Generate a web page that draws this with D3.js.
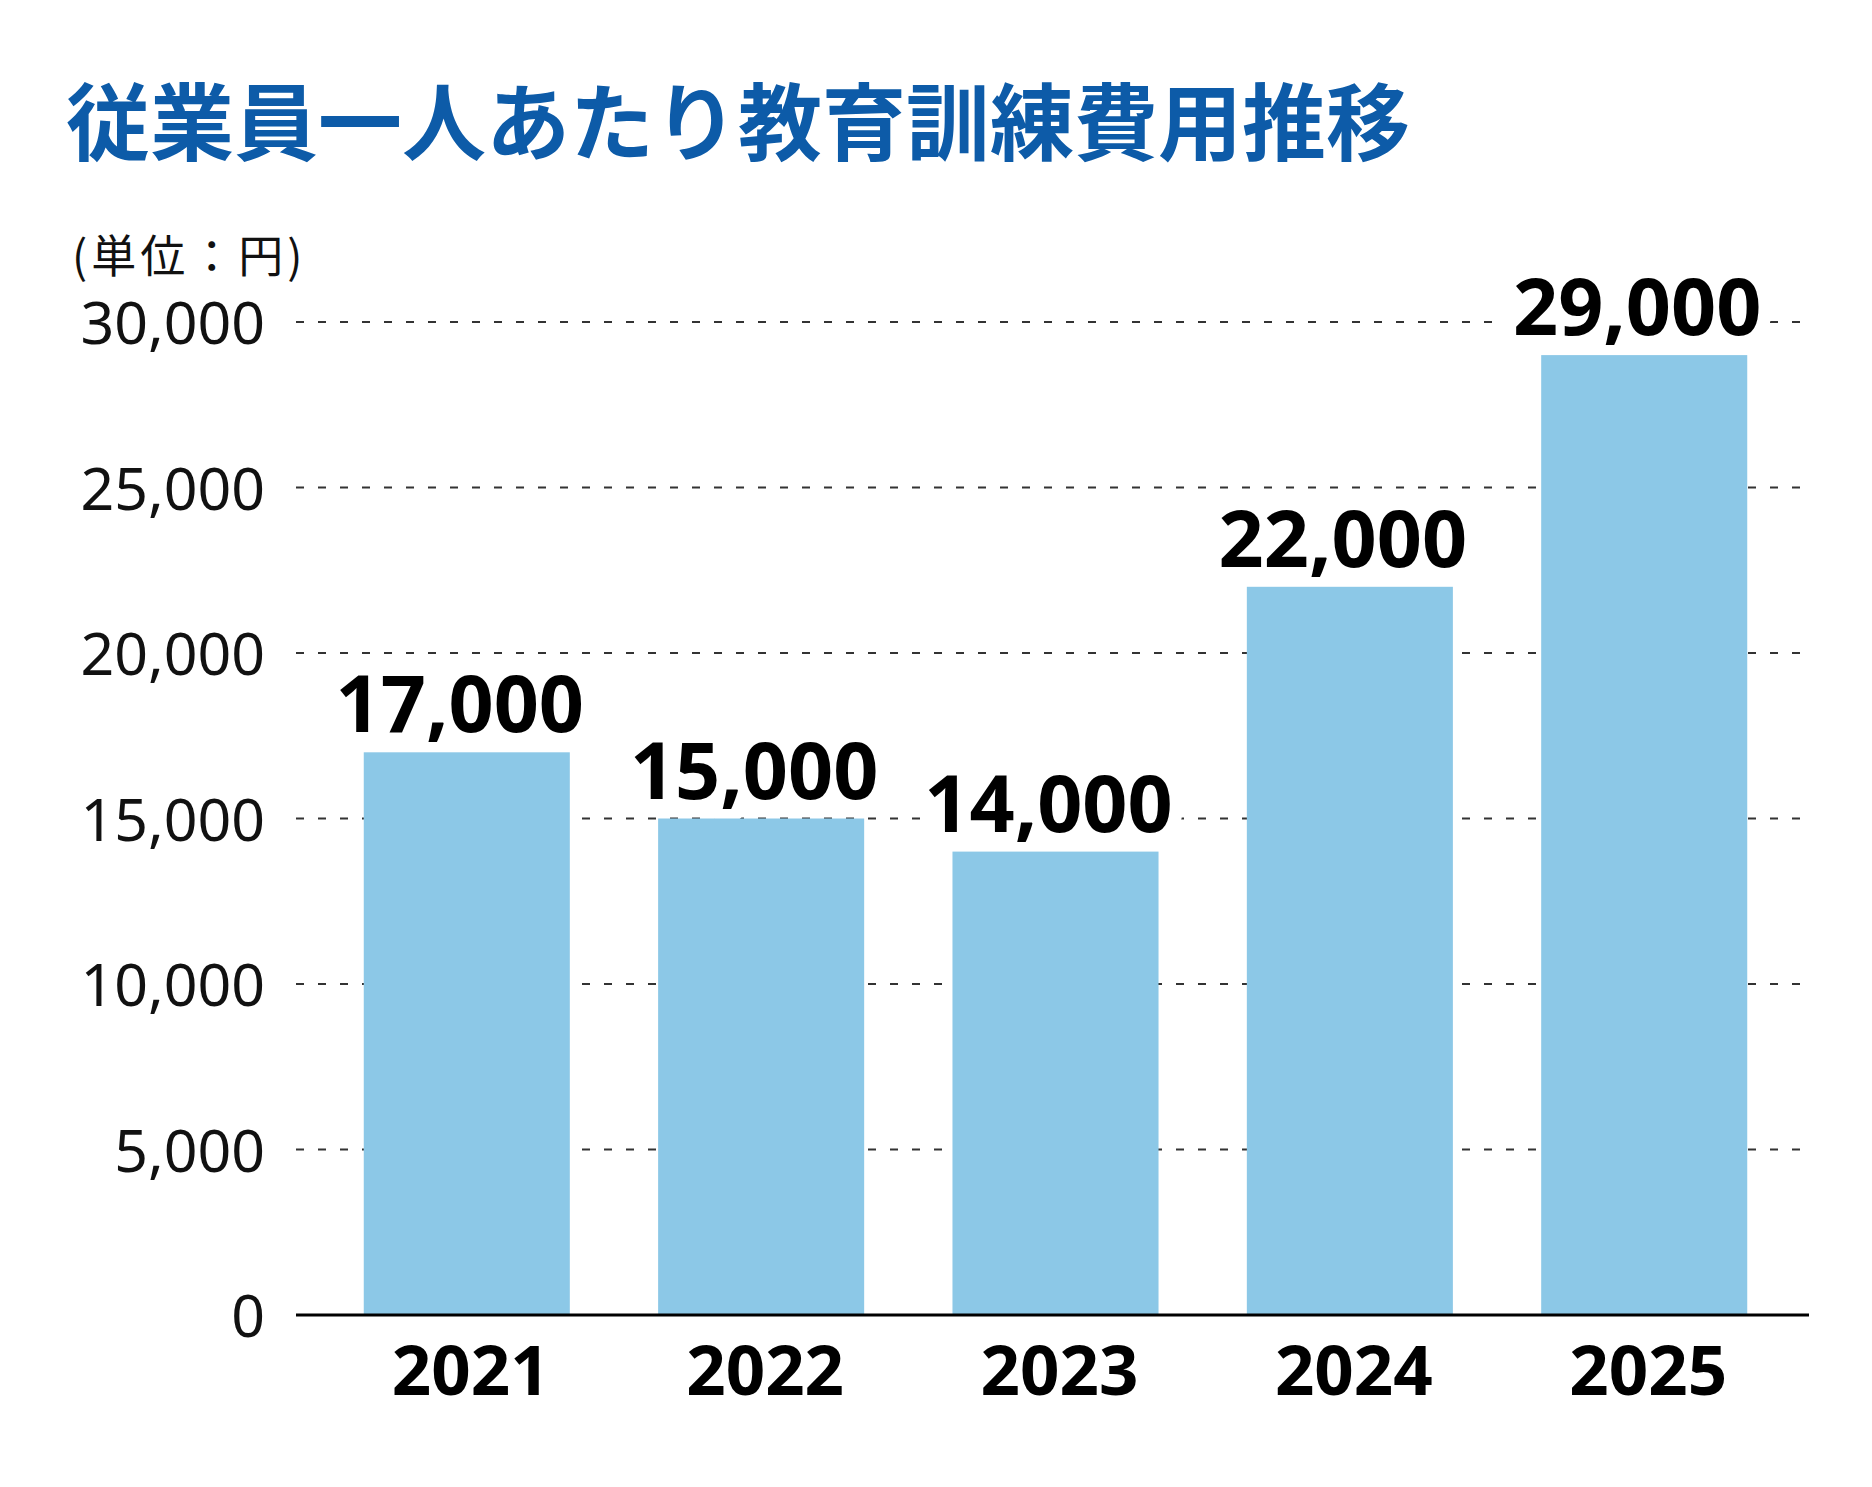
<!DOCTYPE html>
<html>
<head>
<meta charset="utf-8">
<script src="https://cdn.jsdelivr.net/npm/d3@7"></script>
<style>
  body { margin: 0; background: #fff; }
  svg { display: block; }
</style>
</head>
<body>
<svg id="chart"></svg>
<script>
const years = ['2021', '2022', '2023', '2024', '2025'];
const costs = [17000, 15000, 14000, 22000, 29000];
const yticks = [0, 5000, 10000, 15000, 20000, 25000, 30000];

class BarChart{

    constructor(config){
        this.config = {
            parent: config.parent,
            width: config.width || 1872,
            height: config.height || 1487,
            margin: config.margin || {top:322, right:63, bottom:172, left:296},
            title: config.title || '',
            unit: config.unit || ''
        }
        this.init();
    }

    init(){
        let self = this;

        self.svg = d3.select(self.config.parent)
            .attr('width', self.config.width)
            .attr('height', self.config.height);

        self.inner_width = self.config.width - self.config.margin.left - self.config.margin.right;
        self.inner_height = self.config.height - self.config.margin.top - self.config.margin.bottom;

        self.chart = self.svg.append('g')
            .attr('transform', `translate(${self.config.margin.left}, ${self.config.margin.top})`);

        // bars sit a little right of centre in the original
        self.xscale = d3.scaleBand()
            .domain(years)
            .range([3, self.inner_width + 3])
            .paddingInner(0.3)
            .paddingOuter(0.22);

        self.yscale = d3.scaleLinear()
            .domain([0, 30000])
            .range([self.inner_height, 0]);

        // title + unit
        self.svg.append('text')
            .attr('x', 66)
            .attr('y', 154)
            .style('font-family', '"Noto Sans CJK JP"')
            .style('font-size', '84px')
            .style('font-weight', 'bold')
            .style('fill', '#0d5ba8')
            .text(self.config.title);

        self.svg.append('text')
            .attr('x', 72)
            .attr('y', 273)
            .style('font-family', '"Noto Sans CJK JP"')
            .style('font-size', '45px')
            .style('letter-spacing', '4px')
            .style('fill', '#111')
            .text(self.config.unit);
    }

    render(){
        let self = this;
        const label_shift = -7;

        // grid lines (dashed)
        self.chart.append('g')
            .selectAll('line')
            .data(yticks.filter(d => d > 0))
            .join('line')
            .attr('x1', 0)
            .attr('x2', self.inner_width)
            .attr('y1', d => self.yscale(d))
            .attr('y2', d => self.yscale(d))
            .attr('stroke', '#333')
            .attr('stroke-width', 2)
            .attr('stroke-dasharray', '8 14');

        // y labels
        self.chart.append('g')
            .selectAll('text')
            .data(yticks)
            .join('text')
            .attr('x', -31)
            .attr('y', d => self.yscale(d))
            .attr('dy', '0.38em')
            .attr('text-anchor', 'end')
            .style('font-family', '"Noto Sans"')
            .style('font-size', '59px')
            .style('fill', '#111')
            .text(d => d3.format(',')(d));

        // value labels (white halo hides the grid, bars drawn on top after)
        self.chart.append('g')
            .selectAll('text')
            .data(years)
            .join('text')
            .attr('x', d => self.xscale(d) + self.xscale.bandwidth() / 2 + label_shift)
            .attr('y', (d, i) => self.yscale(costs[i]) - 20)
            .attr('text-anchor', 'middle')
            .style('font-family', '"Noto Sans"')
            .style('font-size', '79px')
            .style('font-weight', 'bold')
            .style('fill', '#000')
            .style('stroke', '#fff')
            .style('stroke-width', 26)
            .style('paint-order', 'stroke')
            .style('stroke-linejoin', 'round')
            .text((d, i) => d3.format(',')(costs[i]));

        // bars
        self.chart.append('g')
            .selectAll('rect')
            .data(years)
            .join('rect')
            .attr('x', d => self.xscale(d))
            .attr('width', self.xscale.bandwidth())
            .attr('y', (d, i) => self.yscale(costs[i]))
            .attr('height', (d, i) => self.inner_height - self.yscale(costs[i]))
            .attr('fill', '#8cc8e7');

        // x axis line
        self.chart.append('line')
            .attr('x1', 0)
            .attr('x2', self.inner_width)
            .attr('y1', self.inner_height)
            .attr('y2', self.inner_height)
            .attr('stroke', '#000')
            .attr('stroke-width', 3);

        // x labels
        self.chart.append('g')
            .selectAll('text')
            .data(years)
            .join('text')
            .attr('x', d => self.xscale(d) + self.xscale.bandwidth() / 2 + 4)
            .attr('y', self.inner_height + 80)
            .attr('text-anchor', 'middle')
            .style('font-family', '"Noto Sans"')
            .style('font-size', '69px')
            .style('font-weight', 'bold')
            .style('fill', '#000')
            .text(d => d);
    }
}

let chart = new BarChart({
    parent: '#chart',
    title: '従業員一人あたり教育訓練費用推移',
    unit: '(単位：円)'
});
chart.render();
</script>
</body>
</html>
